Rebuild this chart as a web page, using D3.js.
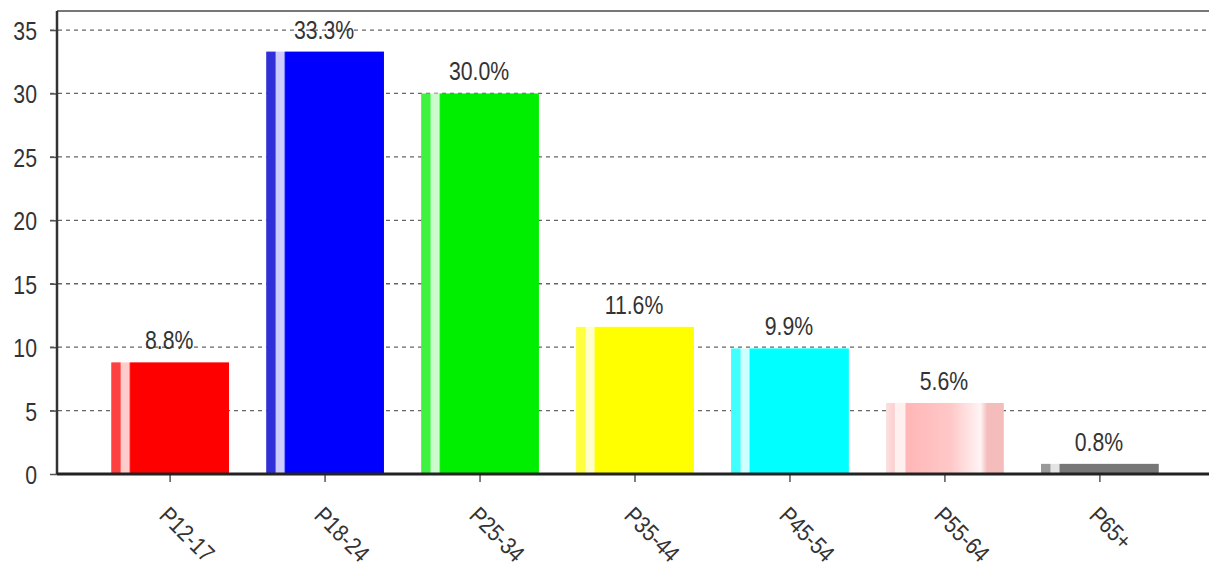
<!DOCTYPE html>
<html>
<head>
<meta charset="utf-8">
<script src="https://cdn.jsdelivr.net/npm/d3@7"></script>
<style>
  body { margin: 0; background: #fff; }
  svg { display: block; font-family: "Liberation Sans", Arial, sans-serif; }
</style>
</head>
<body>
<svg width="1209" height="579"></svg>
<script>
// data
const groups = ["P12-17", "P18-24", "P25-34", "P35-44", "P45-54", "P55-64", "P65+"];
const shares = [8.8, 33.3, 30.0, 11.6, 9.9, 5.6, 0.8];
const barColors = ["#ff0000", "#0000ff", "#00ee00", "#ffff00", "#00ffff", "#ffb6b6", "#777777"];
const yTicks = [0, 5, 10, 15, 20, 25, 30, 35];

const w = 1209, h = 579;
const mLeft = 57, mTop = 11, mBottom = 474;
const squeeze = 0.85; // text in the picture is narrow

const svg = d3.select("svg");

const x = d3.scaleBand()
    .domain(groups)
    .range([mLeft, w + 4])
    .paddingInner(0.24)
    .paddingOuter(0.35);

const y = d3.scaleLinear()
    .domain([0, 36.5])
    .range([mBottom, mTop]);

// gradients that give the bars their striped look
const defs = svg.append("defs");
barColors.forEach((c, i) => {
  const g = defs.append("linearGradient").attr("id", "g" + i)
      .attr("x1", 0).attr("x2", 1).attr("y1", 0).attr("y2", 0);
  const light = d3.interpolateRgb(c, "#fff")(0.8);
  const stripe = i == 1 ? "#3030d8" : d3.interpolateRgb(c, "#fff")(0.25);
  let stops = [[0, stripe], [0.075, stripe], [0.085, light], [0.15, light], [0.165, c], [1, c]];
  if (i == 5) stops = [[0, "#fbe0e0"], [0.07, "#fbd0d0"], [0.08, "#fff0f0"], [0.16, "#fff0f0"], [0.17, c], [0.55, "#ffc8c8"], [0.8, "#fff4f4"], [0.86, "#f5bcbc"], [1, "#f5bcbc"]];
  stops.forEach(s => g.append("stop").attr("offset", s[0]).attr("stop-color", s[1]));
});

// grid
svg.append("g")
  .selectAll("line")
  .data(yTicks.filter(d => d > 0))
  .enter()
  .append("line")
  .attr("x1", mLeft - 7)
  .attr("x2", w)
  .attr("y1", d => y(d))
  .attr("y2", d => y(d))
  .attr("stroke", "#666")
  .attr("stroke-width", 1.3)
  .attr("stroke-dasharray", "4,4");

// top border
svg.append("line")
  .attr("x1", mLeft).attr("x2", w)
  .attr("y1", mTop).attr("y2", mTop)
  .attr("stroke", "#777").attr("stroke-width", 2);

// bars
svg.selectAll("rect.bar")
  .data(shares)
  .enter()
  .append("rect")
  .attr("class", "bar")
  .attr("x", (d, i) => x(groups[i]))
  .attr("y", d => y(d))
  .attr("width", x.bandwidth())
  .attr("height", d => mBottom - y(d))
  .attr("fill", (d, i) => "url(#g" + i + ")");

// value labels
svg.selectAll("text.val")
  .data(shares)
  .enter()
  .append("text")
  .attr("class", "val")
  .attr("transform", (d, i) => "translate(" + (x(groups[i]) + x.bandwidth() / 2 - 1) + "," + (y(d) - 13) + ") scale(" + squeeze + ",1)")
  .attr("text-anchor", "middle")
  .attr("font-size", 25)
  .attr("fill", "#333")
  .text(d => d.toFixed(1) + "%");

// y axis
const yAxis = d3.axisLeft(y).tickValues(yTicks).tickSize(7).tickPadding(0);
const ya = svg.append("g")
  .attr("transform", "translate(" + mLeft + ",0)")
  .call(yAxis);
ya.select(".domain").remove();
ya.selectAll(".tick line").attr("stroke", "#555").attr("stroke-width", 1.5);
ya.selectAll("text")
  .attr("x", 0)
  .attr("dy", "0.38em")
  .attr("transform", "translate(-20,0) scale(" + squeeze + ",1)")
  .attr("font-size", 25).attr("fill", "#333")
  .attr("font-family", "Liberation Sans, Arial, sans-serif");

svg.append("line")
  .attr("x1", mLeft).attr("x2", mLeft)
  .attr("y1", mTop).attr("y2", mBottom)
  .attr("stroke", "#333").attr("stroke-width", 2.5);

// x axis
const xAxis = d3.axisBottom(x).tickSize(8);
const xa = svg.append("g")
  .attr("transform", "translate(0," + mBottom + ")")
  .call(xAxis);
xa.select(".domain").remove();
xa.selectAll(".tick line").attr("stroke", "#555").attr("stroke-width", 1.5);
xa.selectAll("text")
  .attr("font-size", 24)
  .attr("fill", "#333")
  .attr("font-family", "Liberation Sans, Arial, sans-serif")
  .attr("text-anchor", "start")
  .attr("x", 0)
  .attr("y", 0)
  .attr("dy", 0)
  .attr("transform", "translate(-12,43) rotate(45) scale(" + squeeze + ",1)");

svg.append("line")
  .attr("x1", mLeft).attr("x2", w)
  .attr("y1", mBottom).attr("y2", mBottom)
  .attr("stroke", "#222").attr("stroke-width", 3);
</script>
</body>
</html>
